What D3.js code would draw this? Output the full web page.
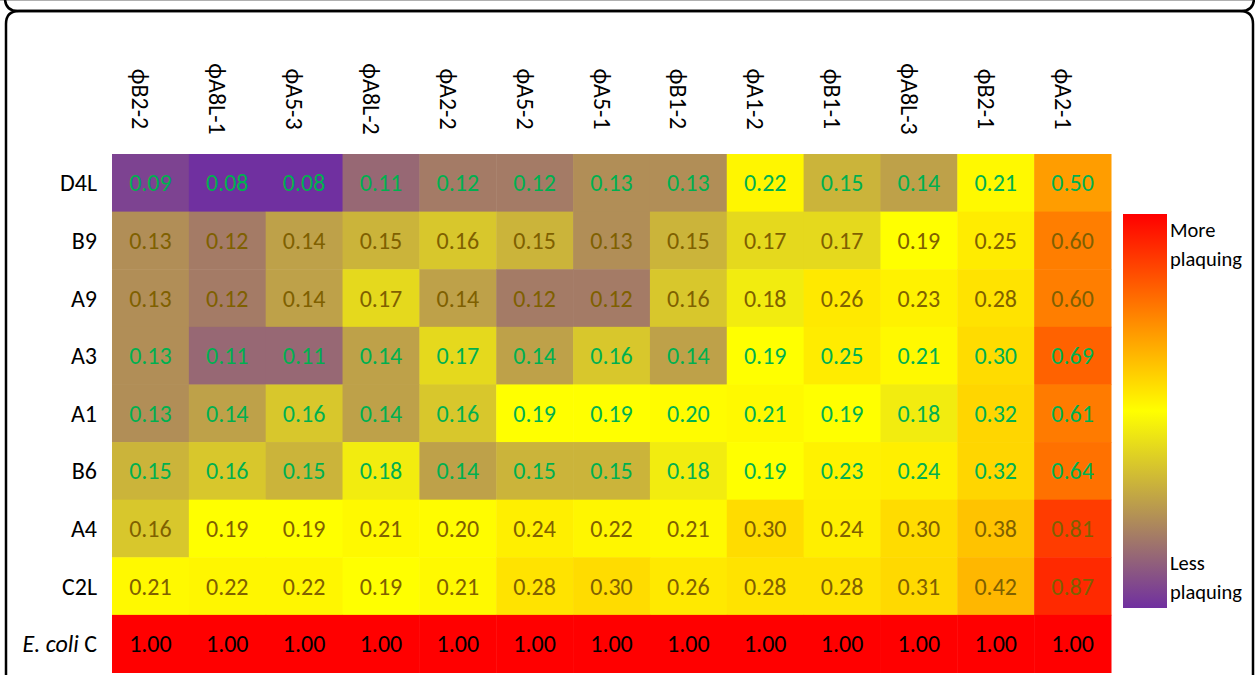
<!DOCTYPE html>
<html>
<head>
<meta charset="utf-8">
<script src="https://cdn.jsdelivr.net/npm/d3@7"></script>
<style>
  html, body { margin: 0; padding: 0; background: #fff; }
  svg { display: block; }
  text { font-family: Carlito, Calibri, Lato, sans-serif; }
</style>
</head>
<body>
<svg id="chart" width="1255" height="675"></svg>
<script>
// Phage columns and host rows
const phages = ["\u03D5B2-2", "\u03D5A8L-1", "\u03D5A5-3", "\u03D5A8L-2", "\u03D5A2-2", "\u03D5A5-2",
                "\u03D5A5-1", "\u03D5B1-2", "\u03D5A1-2", "\u03D5B1-1", "\u03D5A8L-3", "\u03D5B2-1", "\u03D5A2-1"];
const hosts = ["D4L", "B9", "A9", "A3", "A1", "B6", "A4", "C2L", "E. coli C"];

// Relative plaquing efficiency, one array per host row
const rowD4L = [0.09, 0.08, 0.08, 0.11, 0.12, 0.12, 0.13, 0.13, 0.22, 0.15, 0.14, 0.21, 0.50];
const rowB9  = [0.13, 0.12, 0.14, 0.15, 0.16, 0.15, 0.13, 0.15, 0.17, 0.17, 0.19, 0.25, 0.60];
const rowA9  = [0.13, 0.12, 0.14, 0.17, 0.14, 0.12, 0.12, 0.16, 0.18, 0.26, 0.23, 0.28, 0.60];
const rowA3  = [0.13, 0.11, 0.11, 0.14, 0.17, 0.14, 0.16, 0.14, 0.19, 0.25, 0.21, 0.30, 0.69];
const rowA1  = [0.13, 0.14, 0.16, 0.14, 0.16, 0.19, 0.19, 0.20, 0.21, 0.19, 0.18, 0.32, 0.61];
const rowB6  = [0.15, 0.16, 0.15, 0.18, 0.14, 0.15, 0.15, 0.18, 0.19, 0.23, 0.24, 0.32, 0.64];
const rowA4  = [0.16, 0.19, 0.19, 0.21, 0.20, 0.24, 0.22, 0.21, 0.30, 0.24, 0.30, 0.38, 0.81];
const rowC2L = [0.21, 0.22, 0.22, 0.19, 0.21, 0.28, 0.30, 0.26, 0.28, 0.28, 0.31, 0.42, 0.87];
const rowEcoliC = [1.00, 1.00, 1.00, 1.00, 1.00, 1.00, 1.00, 1.00, 1.00, 1.00, 1.00, 1.00, 1.00];
const rows = [rowD4L, rowB9, rowA9, rowA3, rowA1, rowB6, rowA4, rowC2L, rowEcoliC];

// Number colour per row
const textColors = ["#00B050", "#7F6000", "#7F6000", "#00B050", "#00B050", "#00B050", "#7F6000", "#7F6000", "#000000"];

const legendLabels = [["More", "plaquing"], ["Less", "plaquing"]];

const cells = [];
rows.forEach((vals, r) => vals.forEach((v, c) => cells.push({ host: hosts[r], phage: phages[c], value: v, row: r })));

const svg = d3.select("#chart");

// Frame: bottom edge of the panel above, and the rounded panel holding the heatmap
const r0 = 13, L = 6, R = 1253, T = 11;
svg.append("line").attr("x1", 0).attr("x2", 1255).attr("y1", 0.5).attr("y2", 0.5)
  .attr("stroke", "#b0b0b0").attr("stroke-width", 1);
svg.append("path")
  .attr("d", `M${L - 1},${T - r0 - 4} L${L - 1},${T - r0} Q${L - 1},${T} ${L - 1 + r0},${T} L${R + 1 - r0},${T} Q${R + 1},${T} ${R + 1},${T - r0} L${R + 1},${T - r0 - 4}`)
  .attr("fill", "none").attr("stroke", "#000").attr("stroke-width", 2.5);
svg.append("path")
  .attr("d", `M${L},${680} L${L},${T + r0} Q${L},${T} ${L + r0},${T} L${R - r0},${T} Q${R},${T} ${R},${T + r0} L${R},${680}`)
  .attr("fill", "none").attr("stroke", "#000").attr("stroke-width", 2.5);

const x = d3.scaleBand().domain(phages).range([112, 1111]);
const y = d3.scaleBand().domain(hosts).range([154, 672.5]);

// Three-colour scale: minimum, median (50th percentile), maximum
const allVals = rows.flat();
const color = d3.scaleLinear()
  .domain([d3.min(allVals), d3.median(allVals), d3.max(allVals)])
  .range(["#7030A0", "#FFFF00", "#FF0000"])
  .interpolate(d3.interpolateRgb)
  .clamp(true);

svg.append("g").selectAll("rect").data(cells).join("rect")
  .attr("x", d => x(d.phage))
  .attr("y", d => y(d.host))
  .attr("width", x.bandwidth() + 0.5)
  .attr("height", y.bandwidth() + 0.5)
  .attr("fill", d => color(d.value));

svg.append("g").selectAll("text").data(cells).join("text")
  .attr("x", d => x(d.phage) + x.bandwidth() / 2)
  .attr("y", d => y(d.host) + y.bandwidth() / 2 + 8.5)
  .attr("text-anchor", "middle")
  .attr("font-size", 24)
  .attr("fill", d => textColors[d.row])
  .text(d => d.value.toFixed(2));

// Column labels, rotated to read downward
svg.append("g").selectAll("text").data(phages).join("text")
  .attr("transform", d => `translate(${x(d) + x.bandwidth() / 2 - 18},99) rotate(90)`)
  .attr("text-anchor", "middle")
  .attr("font-size", 24)
  .attr("fill", "#000")
  .text(d => d);

// Row labels
const rowLab = svg.append("g").selectAll("text").data(hosts).join("text")
  .attr("x", 97)
  .attr("y", d => y(d) + y.bandwidth() / 2 + 8.5)
  .attr("text-anchor", "end")
  .attr("font-size", 24)
  .attr("fill", "#000");
rowLab.each(function (d) {
  const t = d3.select(this);
  if (d === "E. coli C") {
    t.append("tspan").attr("font-style", "italic").text("E. coli");
    t.append("tspan").text(" C");
  } else {
    t.text(d);
  }
});

// Colour legend
const defs = svg.append("defs");
const grad = defs.append("linearGradient").attr("id", "legendGrad")
  .attr("x1", 0).attr("y1", 1).attr("x2", 0).attr("y2", 0);
color.range().forEach((c, i) => {
  grad.append("stop").attr("offset", `${i * 50}%`).attr("stop-color", c);
});
svg.append("rect").attr("x", 1123).attr("y", 214).attr("width", 44).attr("height", 394)
  .attr("fill", "url(#legendGrad)");

const legY = [237, 266, 570, 599];
legendLabels.flat().forEach((t, i) => {
  svg.append("text").attr("x", 1170).attr("y", legY[i])
    .attr("font-size", 20.5).attr("fill", "#000").text(t);
});
</script>
</body>
</html>
